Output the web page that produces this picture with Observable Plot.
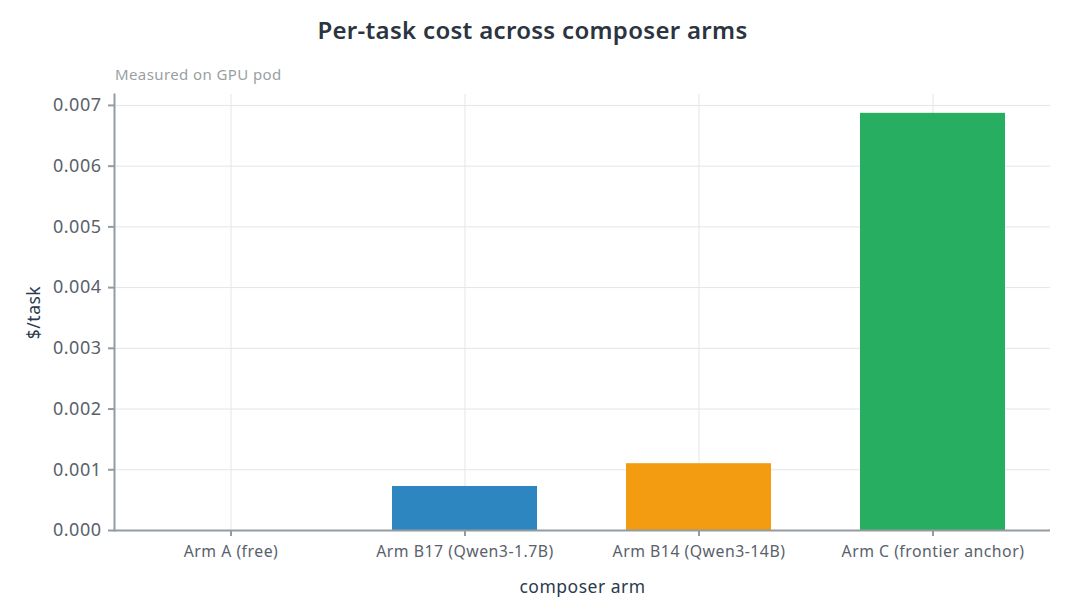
<!DOCTYPE html>
<html>
<head>
<meta charset="utf-8">
<script src="https://cdn.jsdelivr.net/npm/d3@7"></script>
<script src="https://cdn.jsdelivr.net/npm/@observablehq/plot@0.6"></script>
<style>
  body { margin: 0; background: #fff; font-family: "Noto Sans", sans-serif; }
  #title { height: 60px; line-height: 60px; text-align: center; font-size: 24px; font-weight: 600; color: #2b3440; letter-spacing: 0.3px; }
  #subtitle { height: 28px; line-height: 28px; padding-left: 115px; font-size: 15px; color: #9a9fa3; letter-spacing: 0.4px; }
</style>
</head>
<body>
<div id="title">Per-task cost across composer arms</div>
<div id="subtitle">Measured on GPU pod</div>
<div id="chart"></div>
<script>
const arms = ["Arm A (free)", "Arm B17 (Qwen3-1.7B)", "Arm B14 (Qwen3-14B)", "Arm C (frontier anchor)"];
const costs = [0, 0.000725, 0.0011, 0.00687];
const colors = ["#95a5a6", "#2e86c1", "#f39c12", "#27ae60"];
const yTicks = [0, 0.001, 0.002, 0.003, 0.004, 0.005, 0.006, 0.007];

const data = arms.map((arm, i) => ({arm, cost: costs[i]}));

const chart = Plot.plot({
  width: 1065,
  height: 527,
  marginTop: 6,
  marginLeft: 114,
  marginRight: 15,
  marginBottom: 85,
  style: {fontFamily: "Noto Sans, sans-serif", background: "#fff", letterSpacing: "0.5px"},
  x: {domain: arms, paddingInner: 0.38, paddingOuter: 0.19},
  y: {domain: [0, 0.00718]},
  color: {domain: arms, range: colors},
  marks: [
    Plot.gridY(yTicks, {stroke: "#e3e5e7", strokeOpacity: 1}),
    Plot.gridX({stroke: "#e3e5e7", strokeOpacity: 1}),
    Plot.barY(data, {x: "arm", y: "cost", fill: "arm"}),
    Plot.ruleY([0], {stroke: "#959c9f", strokeWidth: 2}),
    Plot.frame({anchor: "left", stroke: "#959c9f", strokeWidth: 2}),
    Plot.axisY({ticks: yTicks, tickFormat: d3.format(".3f"), tickSize: 6, tickPadding: 7, stroke: "#959c9f", strokeWidth: 2, fontSize: 18, color: "#59616b", label: "$/task", labelAnchor: "center", labelOffset: 87, labelArrow: "none"}),
    Plot.axisX({tickSize: 6, tickPadding: 9, stroke: "#959c9f", strokeWidth: 2, fontSize: 15.8, color: "#59616b", label: "composer arm", labelAnchor: "center", labelOffset: 62, labelArrow: "none"})
  ]
});
document.getElementById("chart").appendChild(chart);
chart.querySelectorAll("[aria-label$='axis label'] text, [aria-label$='axis label']").forEach(el => {
  el.setAttribute("fill", "#2b3a4d");
  el.setAttribute("font-size", "17.5");
});
</script>
</body>
</html>
